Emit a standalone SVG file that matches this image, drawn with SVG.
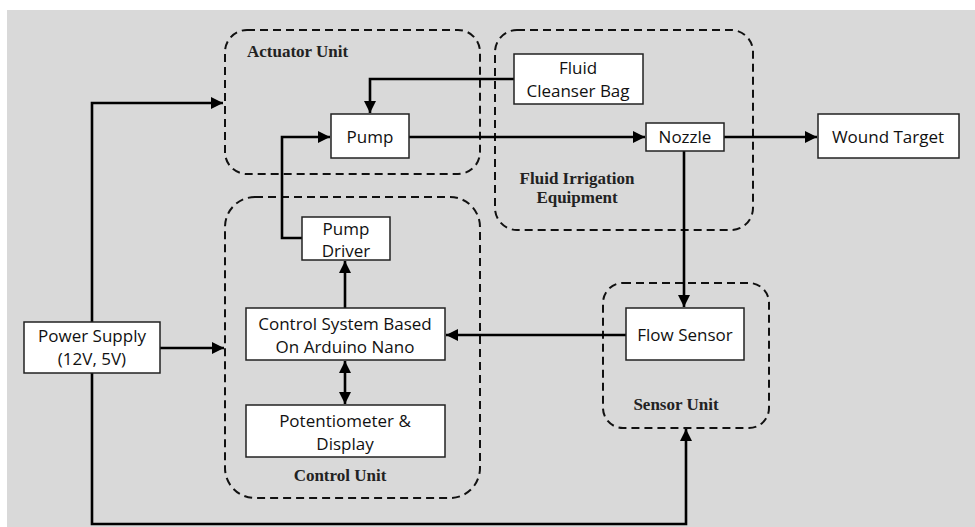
<svg xmlns="http://www.w3.org/2000/svg" width="975" height="527" viewBox="0 0 975 527">
<style>
.node rect{fill:#fff;stroke:#222;stroke-width:1.5}
.node text{font-family:"Open Sans","Liberation Sans",sans-serif;font-size:17px;fill:#111;text-anchor:middle}
.grp rect{fill:none;stroke:#111;stroke-width:2;stroke-dasharray:8 5}
.grp text{font-family:"Liberation Serif",serif;font-size:17px;font-weight:bold;fill:#222}
.conn path{fill:none;stroke:#000;stroke-width:2.6}
</style>
<defs>
<marker id="ah" viewBox="0 0 10 10" refX="10" refY="5" markerWidth="12" markerHeight="12" markerUnits="userSpaceOnUse" orient="auto-start-reverse"><path d="M0,0 L10,5 L0,10 Z" fill="#000"/></marker>
</defs>
<rect x="0" y="0" width="975" height="527" fill="#fff"/>
<rect x="7" y="10" width="968" height="517" fill="#d9d9d9"/>

<g id="actuator-unit" class="grp"><rect x="225" y="30" width="255" height="144" rx="22"/><text x="247" y="57">Actuator Unit</text></g>
<g id="fluid-irrigation" class="grp"><rect x="495" y="30" width="258" height="200" rx="22"/><text x="577" y="184" text-anchor="middle">Fluid Irrigation</text><text x="577" y="203" text-anchor="middle">Equipment</text></g>
<g id="control-unit" class="grp"><rect x="225" y="197" width="255" height="301" rx="30"/><text x="340" y="481" text-anchor="middle">Control Unit</text></g>
<g id="sensor-unit" class="grp"><rect x="603" y="283" width="166" height="145" rx="20"/><text x="676" y="410" text-anchor="middle">Sensor Unit</text></g>

<g class="conn">
<path d="M92,373 V103 H223" marker-end="url(#ah)"/>
<path d="M160,348 H224" marker-end="url(#ah)"/>
<path d="M92,373 V524 H686 V429" marker-end="url(#ah)"/>
<path d="M302,238 H282 V137 H330" marker-end="url(#ah)"/>
<path d="M514,79 H370 V113" marker-end="url(#ah)"/>
<path d="M409,137 H645" marker-end="url(#ah)"/>
<path d="M724,137 H817" marker-end="url(#ah)"/>
<path d="M684,151 V307" marker-end="url(#ah)"/>
<path d="M626,335 H446" marker-end="url(#ah)"/>
<path d="M345,308 V261" marker-end="url(#ah)"/>
<path d="M345,361 V404" marker-start="url(#ah)" marker-end="url(#ah)"/>
</g>

<g id="pump" class="node"><rect x="331" y="114" width="78" height="44"/><text x="370" y="143">Pump</text></g>
<g id="pump-driver" class="node"><rect x="302" y="217" width="88" height="43"/><text x="346" y="235">Pump</text><text x="346" y="257">Driver</text></g>
<g id="fluid-bag" class="node"><rect x="514" y="54" width="129" height="50"/><text x="578" y="74">Fluid</text><text x="578" y="97">Cleanser Bag</text></g>
<g id="nozzle" class="node"><rect x="646" y="123" width="78" height="28"/><text x="685" y="143">Nozzle</text></g>
<g id="wound-target" class="node"><rect x="818" y="114" width="141" height="44"/><text x="888" y="143">Wound Target</text></g>
<g id="flow-sensor" class="node"><rect x="626" y="308" width="118" height="52"/><text x="685" y="341">Flow Sensor</text></g>
<g id="control-system" class="node"><rect x="246" y="308" width="199" height="52"/><text x="345" y="330">Control System Based</text><text x="345" y="353">On Arduino Nano</text></g>
<g id="potentiometer" class="node"><rect x="246" y="405" width="199" height="52"/><text x="345" y="427">Potentiometer &amp;</text><text x="345" y="450">Display</text></g>
<g id="power-supply" class="node"><rect x="24" y="322" width="136" height="51"/><text x="92" y="342">Power Supply</text><text x="92" y="365">(12V, 5V)</text></g>
</svg>
